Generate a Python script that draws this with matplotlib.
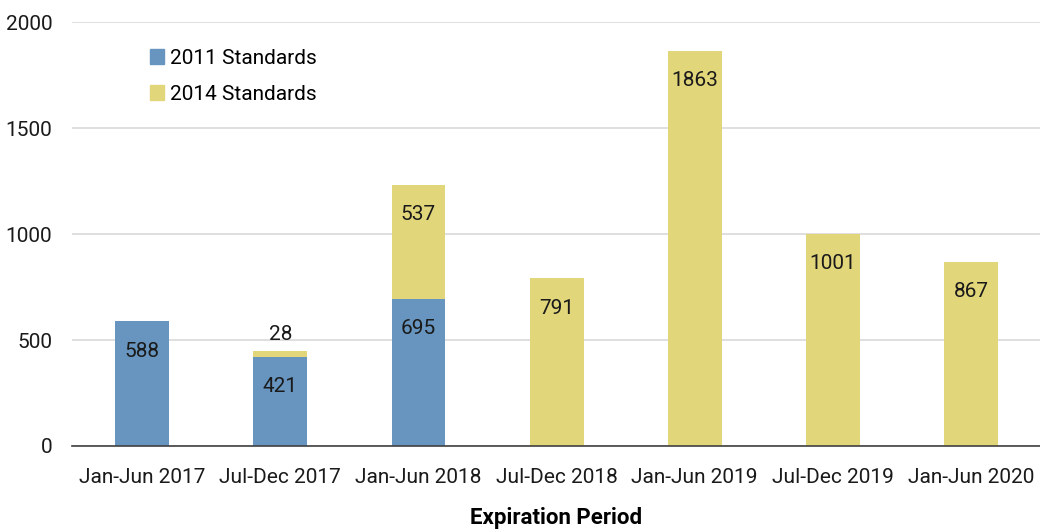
import matplotlib
matplotlib.use("Agg")
import matplotlib.pyplot as plt
import numpy as np
from matplotlib.patches import Patch

periods = ["Jan-Jun 2017", "Jul-Dec 2017", "Jan-Jun 2018", "Jul-Dec 2018",
           "Jan-Jun 2019", "Jul-Dec 2019", "Jan-Jun 2020"]
std_2011 = [588, 421, 695, 0, 0, 0, 0]
std_2014 = [0, 28, 537, 791, 1863, 1001, 867]

BLUE = "#6795bf"
YELLOW = "#e2d67b"

plt.rcParams["font.family"] = ["Roboto", "DejaVu Sans"]

fig = plt.figure(figsize=(10.4, 5.29), dpi=100)
ax = fig.add_axes([0.069, 0.157, 0.931, 0.801])

x = np.arange(len(periods))
w = 0.39
a = np.array(std_2011)
b = np.array(std_2014)
ax.bar(x, a, w, color=BLUE, zorder=3)
ax.bar(x, b, w, bottom=a, color=YELLOW, zorder=3)

for i in range(len(periods)):
    if a[i] > 0:
        ax.annotate(str(a[i]), (x[i], a[i]), xytext=(0, -14.5), textcoords="offset points",
                    ha="center", va="top", fontsize=15, color="#1a1a1a", zorder=4)
    if b[i] > 0:
        top = a[i] + b[i]
        if b[i] < 100:
            ax.annotate(str(b[i]), (x[i], top), xytext=(0, 5), textcoords="offset points",
                        ha="center", va="bottom", fontsize=15, color="#1a1a1a", zorder=4)
        else:
            ax.annotate(str(b[i]), (x[i], top), xytext=(0, -14.5), textcoords="offset points",
                        ha="center", va="top", fontsize=15, color="#1a1a1a", zorder=4)

ax.set_xlim(-0.51, 6.5)
ax.set_ylim(0, 2000)
ax.set_yticks([0, 500, 1000, 1500, 2000])
ax.set_xticks(x)
ax.set_xticklabels(periods)
ax.tick_params(axis="both", length=0, labelsize=15, colors="#1a1a1a")
ax.tick_params(axis="y", pad=14)
ax.tick_params(axis="x", pad=16)
ax.yaxis.grid(True, color="#d9d9d9", lw=1.2, zorder=0)
for s in ["top", "right", "left"]:
    ax.spines[s].set_visible(False)
ax.spines["bottom"].set_color("#404040")
ax.spines["bottom"].set_linewidth(1.2)
ax.spines["bottom"].set_zorder(5)

ax.set_xlabel("Expiration Period", fontsize=16, fontweight="bold", labelpad=14)

handles = [Patch(color=BLUE, label="2011 Standards"), Patch(color=YELLOW, label="2014 Standards")]
ax.legend(handles=handles, loc="upper left", bbox_to_anchor=(0.061, 0.981), frameon=False,
          fontsize=15, handlelength=0.7, handleheight=0.7, handletextpad=0.3, labelspacing=0.8)

fig.savefig("out.png", dpi=100)
